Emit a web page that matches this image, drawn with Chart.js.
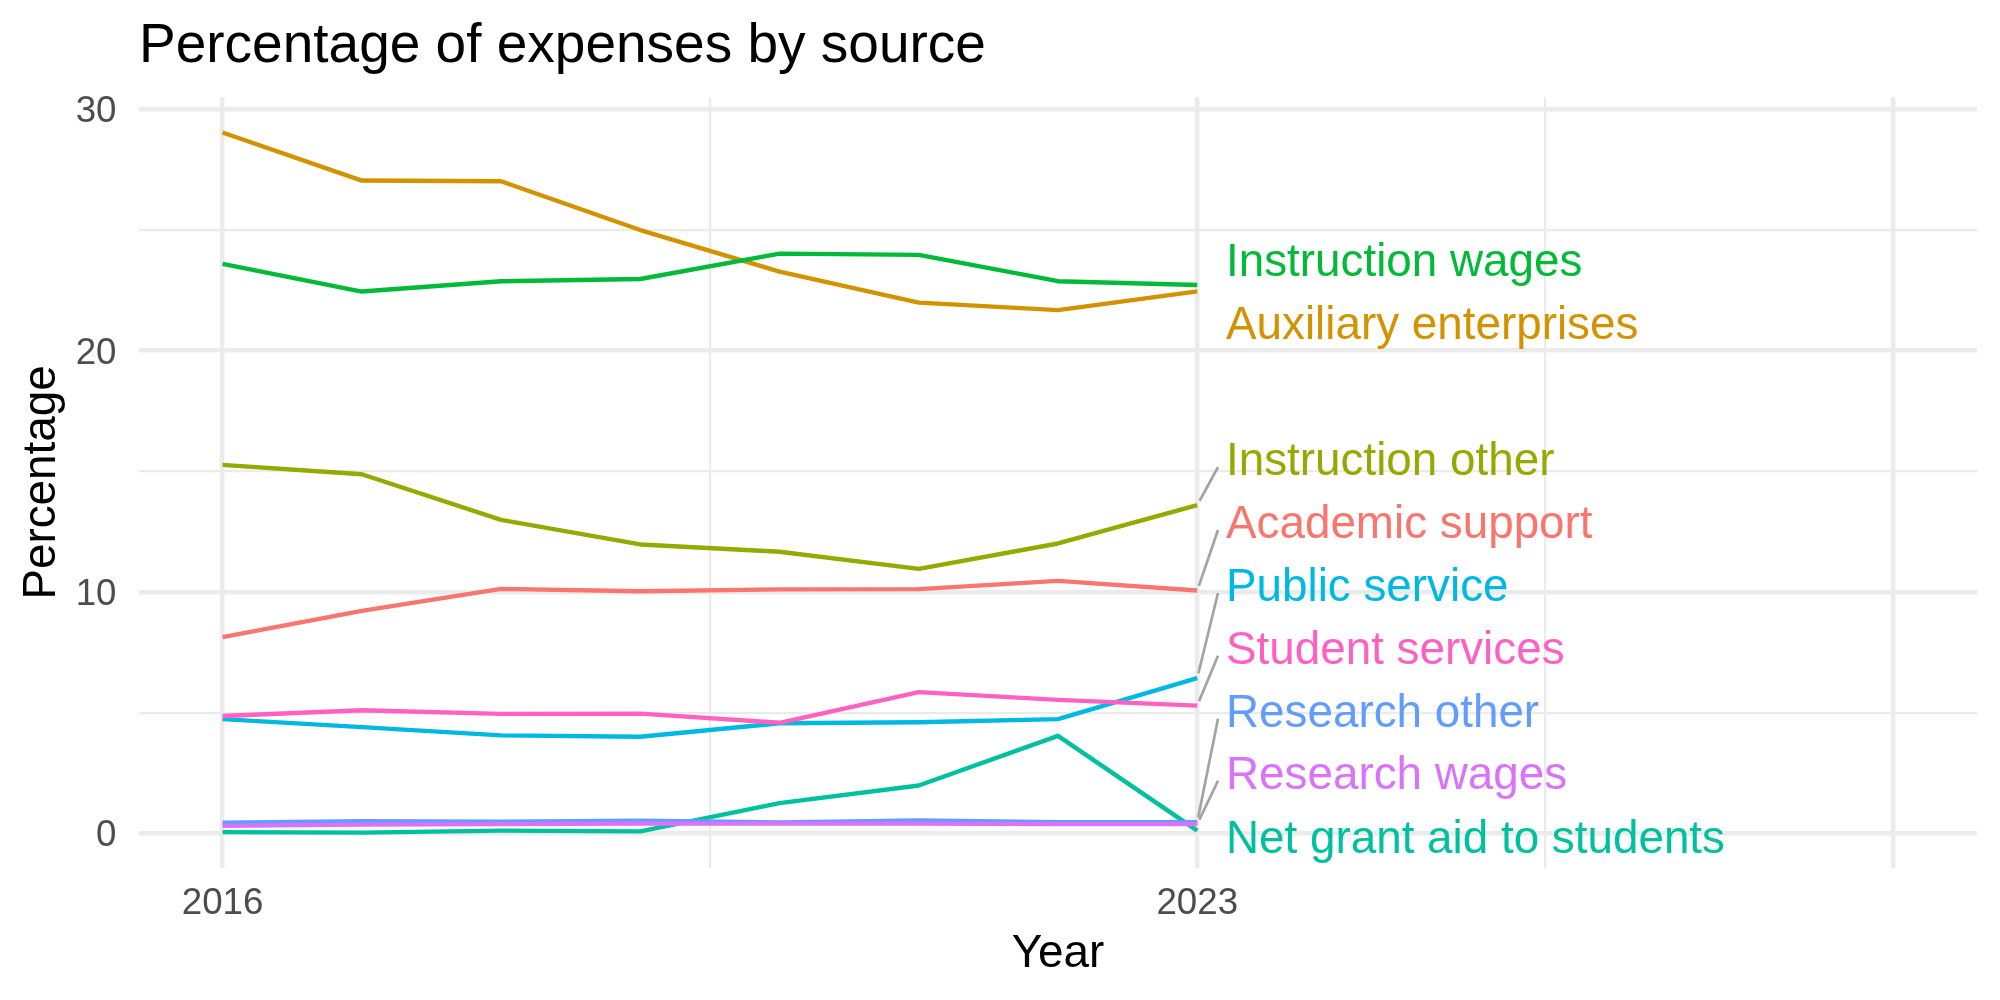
<!DOCTYPE html>
<html>
<head>
<meta charset="utf-8">
<script src="https://cdn.jsdelivr.net/npm/chart.js@4.4.1/dist/chart.umd.min.js"></script>
<style>
  html, body { margin: 0; padding: 0; background: #fff; }
  canvas { display: block; }
</style>
</head>
<body>
<canvas id="chart" width="2000" height="1000"></canvas>
<script>
'use strict';

// ── Data ──────────────────────────────────────────────────────────────────────

const years = [2016, 2017, 2018, 2019, 2020, 2021, 2022, 2023];

const academicSupport      = [8.13, 9.22, 10.13, 10.03, 10.11, 10.12, 10.46, 10.06];
const auxiliaryEnterprises = [29.04, 27.05, 27.02, 25.00, 23.28, 21.99, 21.68, 22.46];
const instructionOther     = [15.27, 14.88, 12.99, 11.97, 11.67, 10.96, 12.01, 13.60];
const instructionWages     = [23.60, 22.45, 22.88, 22.97, 24.02, 23.97, 22.88, 22.72];
const netGrantAid          = [0.05, 0.03, 0.11, 0.08, 1.25, 1.98, 4.04, 0.11];
const publicService        = [4.73, 4.40, 4.06, 4.00, 4.56, 4.60, 4.73, 6.43];
const researchOther        = [0.44, 0.50, 0.48, 0.52, 0.45, 0.53, 0.46, 0.46];
const researchWages        = [0.31, 0.36, 0.38, 0.40, 0.40, 0.40, 0.38, 0.38];
const studentServices      = [4.86, 5.10, 4.95, 4.96, 4.58, 5.85, 5.53, 5.29];

const seriesNames = [
  'Academic support', 'Auxiliary enterprises', 'Instruction other', 'Instruction wages',
  'Net grant aid to students', 'Public service', 'Research other', 'Research wages', 'Student services',
];
const seriesValues = [
  academicSupport, auxiliaryEnterprises, instructionOther, instructionWages,
  netGrantAid, publicService, researchOther, researchWages, studentServices,
];

// where the repelled labels ended up (centre, in percentage units)
const labelCentres = [12.90, 21.17, 15.51, 23.78, -0.14, 10.29, 5.08, 2.51, 7.69];

const xMajorBreaks = [2016, 2023, 2028];
const xMinorBreaks = [2019.5, 2025.5];
const xTickLabels  = ['2016', '2023'];
const yMajorBreaks = [0, 10, 20, 30];
const yMinorBreaks = [5, 15, 25];
const yTickLabels  = ['0', '10', '20', '30'];

// ── Styling ──────────────────────────────────────────────────────────────────

const COLORS = ['#F8766D', '#D39200', '#93AA00', '#00BA38', '#00C19F', '#00B9E3', '#619CFF', '#DB72FB', '#FF61C3'];
const FONT = '"Liberation Sans", Arial, sans-serif';
const GRID = '#EBEBEB';
const LABEL_X = 1226;
const LABEL_SIZE = 45.8;

function ggGrid(majors) {
  return {
    color: GRID,
    drawTicks: false,
    lineWidth: ctx => majors.includes(ctx.tick.value) ? 4.4 : 2.2,
  };
}

// ── Plugins ──────────────────────────────────────────────────────────────────

const titlePlugin = {
  id: 'ggTitle',
  afterDraw(chart) {
    const ctx = chart.ctx;
    ctx.save();
    ctx.font = `55px ${FONT}`;
    ctx.fillStyle = '#000';
    ctx.textBaseline = 'alphabetic';
    ctx.textAlign = 'left';
    ctx.fillText('Percentage of expenses by source', 139, 62);
    ctx.restore();
  },
};

const repelLabels = {
  id: 'repelLabels',
  afterDatasetsDraw(chart) {
    const ctx = chart.ctx;
    const xs = chart.scales.x, ys = chart.scales.y;
    const lastX = xs.getPixelForValue(years[years.length - 1]);
    ctx.save();
    seriesNames.forEach((name, i) => {
      const vals = seriesValues[i];
      const py = ys.getPixelForValue(vals[vals.length - 1]);
      const ly = ys.getPixelForValue(labelCentres[i]);
      if (Math.abs(ly - py) > 40) {
        // leader segment, padded a little away from the point
        const ex = LABEL_X - 8, ey = ly + 8;
        const len = Math.hypot(ex - lastX, ey - py);
        const pad = 5;
        ctx.strokeStyle = '#A3A3A3';
        ctx.lineWidth = 2.7;
        ctx.beginPath();
        ctx.moveTo(lastX + (ex - lastX) * pad / len, py + (ey - py) * pad / len);
        ctx.lineTo(ex, ey);
        ctx.stroke();
      }
      ctx.font = `${LABEL_SIZE}px ${FONT}`;
      ctx.fillStyle = COLORS[i];
      ctx.textAlign = 'left';
      ctx.textBaseline = 'alphabetic';
      ctx.fillText(name, LABEL_X, ly + LABEL_SIZE * 0.358);
    });
    ctx.restore();
  },
};

// ── Chart ────────────────────────────────────────────────────────────────────

new Chart(document.getElementById('chart'), {
  type: 'line',
  data: {
    labels: years,
    datasets: seriesNames.map((name, i) => ({
      label: name,
      data: years.map((yr, j) => ({ x: yr, y: seriesValues[i][j] })),
      borderColor: COLORS[i],
      backgroundColor: COLORS[i],
      borderWidth: 4.4,
      borderJoinStyle: 'round',
      pointRadius: 0,
      tension: 0,
      fill: false,
      order: seriesNames.length - i,
    })),
  },
  options: {
    responsive: false,
    animation: false,
    devicePixelRatio: 1,
    layout: { padding: { top: 97.3, right: 23, bottom: 0, left: 0 } },
    plugins: { legend: { display: false }, tooltip: { enabled: false }, title: { display: false } },
    scales: {
      x: {
        type: 'linear',
        min: 2015.4,
        max: 2028.6,
        border: { display: false },
        grid: ggGrid(xMajorBreaks),
        afterBuildTicks: s => { s.ticks = [...xMajorBreaks, ...xMinorBreaks].sort((a, b) => a - b).map(v => ({ value: v })); },
        afterFit: s => { s.height = 132.3; },
        ticks: {
          autoSkip: false,
          maxRotation: 0,
          padding: 14,
          color: '#4D4D4D',
          font: { family: FONT, size: 36.7 },
          callback: v => { const k = xMajorBreaks.indexOf(v); return k >= 0 && k < xTickLabels.length ? xTickLabels[k] : ''; },
        },
        title: { display: true, text: 'Year', color: '#000', font: { family: FONT, size: 45.8 }, padding: { top: 0, bottom: 18.5 } },
      },
      y: {
        type: 'linear',
        min: -1.425,
        max: 30.5,
        border: { display: false },
        grid: ggGrid(yMajorBreaks),
        afterBuildTicks: s => { s.ticks = [...yMajorBreaks, ...yMinorBreaks].sort((a, b) => a - b).map(v => ({ value: v })); },
        afterFit: s => { s.width = 139; },
        ticks: {
          autoSkip: false,
          padding: 22.5,
          labelOffset: 3,
          color: '#4D4D4D',
          font: { family: FONT, size: 36.7 },
          callback: v => { const k = yMajorBreaks.indexOf(v); return k >= 0 ? yTickLabels[k] : ''; },
        },
        title: { display: true, text: 'Percentage', color: '#000', font: { family: FONT, size: 45.8 }, padding: { top: 15, bottom: 0 } },
      },
    },
  },
  plugins: [titlePlugin, repelLabels],
});
</script>
</body>
</html>
